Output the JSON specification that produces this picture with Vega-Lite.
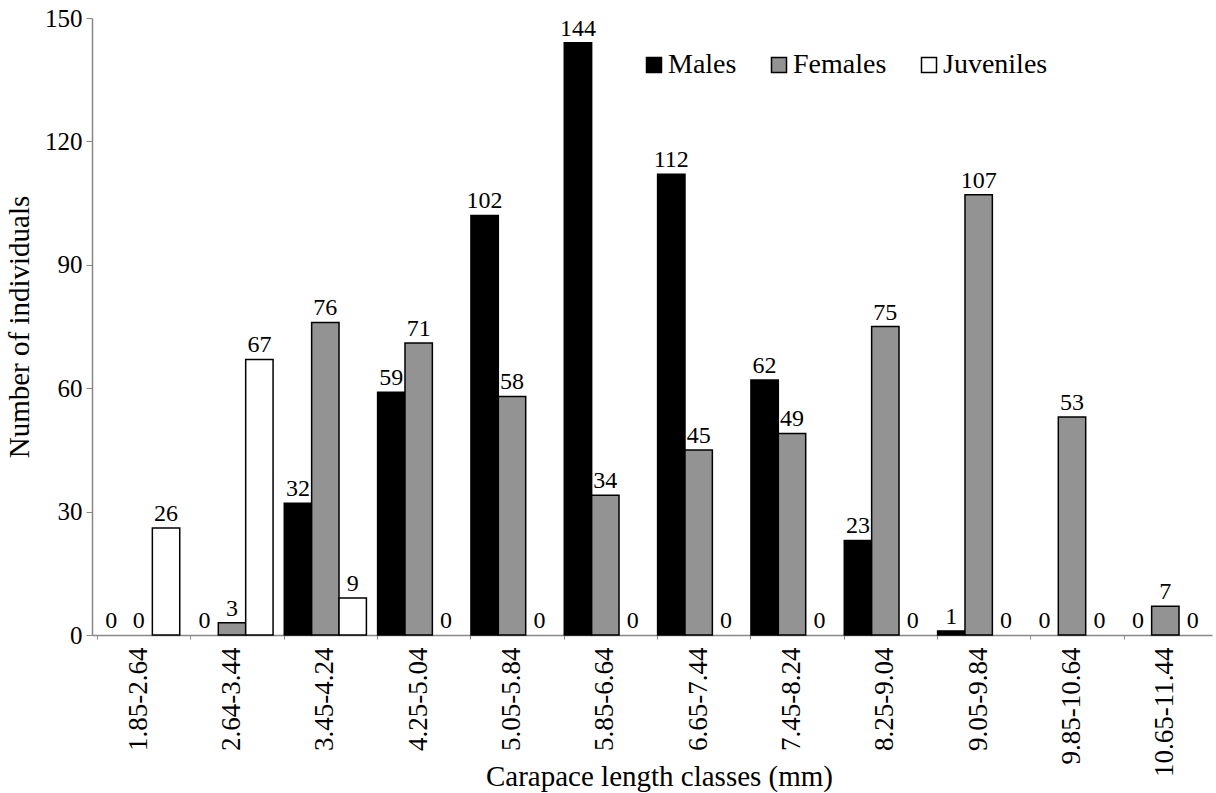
{
  "$schema": "https://vega.github.io/schema/vega-lite/v6.json",
  "width": 1120,
  "height": 617,
  "autosize": {"type": "none"},
  "padding": {"left": 92, "top": 18, "right": 4, "bottom": 158},
  "background": "white",
  "config": {
    "view": {"stroke": null},
    "font": "'Liberation Serif', 'Times New Roman', serif",
    "axis": {"grid": false, "labelFont": "'Liberation Serif', 'Times New Roman', serif", "titleFont": "'Liberation Serif', 'Times New Roman', serif", "labelColor": "black", "titleColor": "black", "titleFontWeight": "normal", "domainColor": "#888888", "tickColor": "#888888", "domainWidth": 1.5}
  },
  "data": {
    "values": [
      {"cls": "1.85-2.64", "group": "Males", "n": 0},
      {"cls": "1.85-2.64", "group": "Females", "n": 0},
      {"cls": "1.85-2.64", "group": "Juveniles", "n": 26},
      {"cls": "2.64-3.44", "group": "Males", "n": 0},
      {"cls": "2.64-3.44", "group": "Females", "n": 3},
      {"cls": "2.64-3.44", "group": "Juveniles", "n": 67},
      {"cls": "3.45-4.24", "group": "Males", "n": 32},
      {"cls": "3.45-4.24", "group": "Females", "n": 76},
      {"cls": "3.45-4.24", "group": "Juveniles", "n": 9},
      {"cls": "4.25-5.04", "group": "Males", "n": 59},
      {"cls": "4.25-5.04", "group": "Females", "n": 71},
      {"cls": "4.25-5.04", "group": "Juveniles", "n": 0},
      {"cls": "5.05-5.84", "group": "Males", "n": 102},
      {"cls": "5.05-5.84", "group": "Females", "n": 58},
      {"cls": "5.05-5.84", "group": "Juveniles", "n": 0},
      {"cls": "5.85-6.64", "group": "Males", "n": 144},
      {"cls": "5.85-6.64", "group": "Females", "n": 34},
      {"cls": "5.85-6.64", "group": "Juveniles", "n": 0},
      {"cls": "6.65-7.44", "group": "Males", "n": 112},
      {"cls": "6.65-7.44", "group": "Females", "n": 45},
      {"cls": "6.65-7.44", "group": "Juveniles", "n": 0},
      {"cls": "7.45-8.24", "group": "Males", "n": 62},
      {"cls": "7.45-8.24", "group": "Females", "n": 49},
      {"cls": "7.45-8.24", "group": "Juveniles", "n": 0},
      {"cls": "8.25-9.04", "group": "Males", "n": 23},
      {"cls": "8.25-9.04", "group": "Females", "n": 75},
      {"cls": "8.25-9.04", "group": "Juveniles", "n": 0},
      {"cls": "9.05-9.84", "group": "Males", "n": 1},
      {"cls": "9.05-9.84", "group": "Females", "n": 107},
      {"cls": "9.05-9.84", "group": "Juveniles", "n": 0},
      {"cls": "9.85-10.64", "group": "Males", "n": 0},
      {"cls": "9.85-10.64", "group": "Females", "n": 53},
      {"cls": "9.85-10.64", "group": "Juveniles", "n": 0},
      {"cls": "10.65-11.44", "group": "Males", "n": 0},
      {"cls": "10.65-11.44", "group": "Females", "n": 7},
      {"cls": "10.65-11.44", "group": "Juveniles", "n": 0}
    ]
  },
  "encoding": {
    "x": {
      "field": "cls", "type": "nominal", "sort": null,
      "scale": {"paddingInner": 0.12, "paddingOuter": 0.06},
      "axis": {"title": "Carapace length classes (mm)", "titleFontSize": 29, "titleY": 150, "titleBaseline": "alphabetic", "titleX": 567, "labelAngle": -90, "labelFontSize": 27, "labelPadding": 8, "bandPosition": 0, "tickSize": 4, "ticks": true}
    },
    "xOffset": {"field": "group", "type": "nominal", "sort": ["Males", "Females", "Juveniles"], "scale": {"paddingInner": 0, "paddingOuter": 0}},
    "y": {
      "field": "n", "type": "quantitative",
      "scale": {"domain": [0, 150], "nice": false},
      "axis": {"title": "Number of individuals", "titleFontSize": 29, "titlePadding": 10, "values": [0, 30, 60, 90, 120, 150], "labelFontSize": 25, "tickSize": 6, "labelPadding": 4}
    }
  },
  "layer": [
    {
      "mark": {"type": "bar", "stroke": "black", "strokeWidth": 1.5},
      "encoding": {
        "fill": {
          "field": "group", "type": "nominal",
          "scale": {"domain": ["Males", "Females", "Juveniles"], "range": ["#000000", "#939393", "#ffffff"]},
          "legend": {"title": null, "orient": "none", "legendX": 548, "legendY": 33, "direction": "horizontal", "symbolType": "square", "symbolSize": 225, "symbolStrokeColor": "black", "symbolStrokeWidth": 1.5, "labelFontSize": 28, "labelFont": "'Liberation Serif', 'Times New Roman', serif", "labelColor": "black", "labelOffset": 0, "columnPadding": 28}
        },
        "strokeOpacity": {"condition": {"test": "datum.n === 0", "value": 0}, "value": 1}
      }
    },
    {
      "mark": {"type": "text", "baseline": "bottom", "dy": -2, "fontSize": 24, "font": "'Liberation Serif', 'Times New Roman', serif", "color": "black"},
      "encoding": {"text": {"field": "n", "type": "quantitative"}}
    }
  ]
}
